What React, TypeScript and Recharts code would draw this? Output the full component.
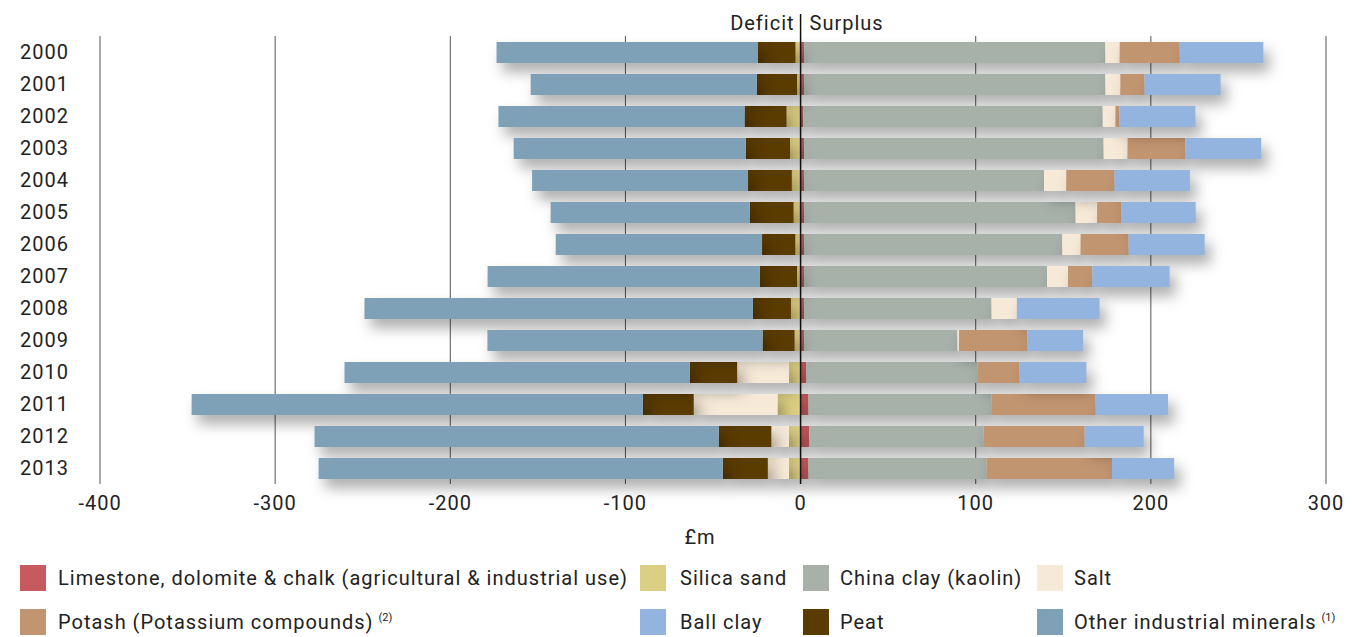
import { Bar, BarChart, CartesianGrid, ReferenceLine, XAxis, YAxis } from "recharts";

const years = ["2000", "2001", "2002", "2003", "2004", "2005", "2006", "2007", "2008", "2009", "2010", "2011", "2012", "2013"];

const limestone = [2, 2, 1.5, 2, 2, 2, 2, 2, 2, 2, 3.3, 4.5, 5, 4.5];
const silicaSand = [-2.9, -2, -8, -6, -5, -4, -3, -2, -5.5, -3.4, -6.6, -13.1, -6.6, -6.6];
const chinaClay = [172, 172, 171, 171, 137, 155, 147.4, 138.7, 107, 87.5, 97.6, 104.6, 99.5, 101.7];
const salt = [8.2, 8.6, 7.3, 13.7, 12.7, 12.3, 10.5, 12, 14.5, 1, -29.6, -47.9, -10.1, -12.1];
const potash = [34.3, 13.8, 2.2, 33, 27.6, 13.7, 27.4, 13.9, 0, 39, 24.1, 59.4, 57.7, 71.6];
const ballClay = [47.7, 43.4, 43.4, 43.3, 43, 42.6, 43.4, 44.1, 47.2, 31.8, 38.2, 41.3, 33.7, 35.5];
const peat = [-21.4, -23, -24, -25.3, -25, -25, -19, -21.3, -21.7, -18.3, -27.1, -29, -30, -25.7];
const otherMinerals = [-149.3, -129.1, -140.5, -132.5, -123.3, -113.7, -117.8, -155.4, -221.8, -157.1, -197.1, -257.7, -230.8, -230.8];

const xTicks = [-400, -300, -200, -100, 0, 100, 200, 300];

const seriesKeys = ["limestone", "silica", "china", "salt", "potash", "ball", "peat", "other"];
const seriesNames = [
  "Limestone, dolomite & chalk (agricultural & industrial use)",
  "Silica sand",
  "China clay (kaolin)",
  "Salt",
  "Potash (Potassium compounds)",
  "Ball clay",
  "Peat",
  "Other industrial minerals",
];
const seriesNotes = ["", "", "", "", "(2)", "", "", "(1)"];
const seriesColors = ["#c75a5e", "#dccf83", "#a8b0aa", "#f6e9d8", "#c29571", "#93b4de", "#5a3b00", "#7ea1b8"];
const seriesValues = [limestone, silicaSand, chinaClay, salt, potash, ballClay, peat, otherMinerals];

const data = years.map((year, i) => {
  const row: Record<string, string | number> = { year };
  seriesKeys.forEach((k, s) => {
    row[k] = seriesValues[s][i];
  });
  return row;
});

const FONT = "Roboto, 'Noto Sans', sans-serif";
const legendCols = [20, 640, 803, 1037];

function ZeroLabel(props: any) {
  const { x, y } = props.viewBox || {};
  return (
    <g>
      <line x1={x} x2={x} y1={y - 22} y2={y} stroke="#111" strokeWidth={1.5} />
      <text x={x - 6} y={y - 11} textAnchor="end" dominantBaseline="middle" fontSize={20} fill="#222">
        Deficit
      </text>
      <text x={x + 9} y={y - 11} textAnchor="start" dominantBaseline="middle" fontSize={20} fill="#222">
        Surplus
      </text>
    </g>
  );
}

export default function App() {
  return (
    <div style={{ position: "absolute", left: 0, top: 0, width: 1352, height: 637, fontFamily: FONT, background: "#fff" }}>
      <style>{`body{margin:0}svg text{letter-spacing:1px}.recharts-bar-rectangles{filter:drop-shadow(6px 9px 7px rgba(0,0,0,0.32))}`}</style>
      <BarChart
        width={1352}
        height={637}
        data={data}
        layout="vertical"
        stackOffset="sign"
        barSize={21}
        margin={{ top: 36, right: 26, bottom: 93, left: 0 }}
        style={{ fontFamily: FONT }}
      >
        <CartesianGrid horizontal={false} stroke="#555" strokeWidth={1} />
        <XAxis
          type="number"
          domain={[-400, 300]}
          ticks={xTicks}
          axisLine={false}
          tickLine={false}
          tickMargin={6}
          height={60}
          tick={{ fill: "#222", fontSize: 20 }}
          label={{ value: "£m", position: "insideBottom", offset: 0, dx: -13, fill: "#222", fontSize: 20 }}
        />
        <YAxis
          type="category"
          dataKey="year"
          width={100}
          axisLine={false}
          tickLine={false}
          tickMargin={25}
          tick={{ fill: "#222", fontSize: 20 }}
        />
        {seriesKeys.map((k, s) => (
          <Bar key={k} dataKey={k} name={seriesNames[s]} stackId="a" fill={seriesColors[s]} isAnimationActive={false} />
        ))}
        <ReferenceLine x={0} stroke="#111" strokeWidth={1.5} label={<ZeroLabel />} />
      </BarChart>
      {seriesKeys.map((k, s) => {
        const row = Math.floor(s / 4);
        const col = s % 4;
        const textLeft = col === 0 ? 38 : col === 1 ? 40 : 37;
        return (
          <div
            key={k}
            style={{ position: "absolute", left: legendCols[col], top: 565 + row * 44, height: 26, display: "flex", alignItems: "center", whiteSpace: "nowrap" }}
          >
            <div style={{ width: 26, height: 26, background: seriesColors[s] }} />
            <span style={{ marginLeft: textLeft - 26, fontSize: 20, letterSpacing: 1, color: "#222" }}>
              {seriesNames[s]}
              {seriesNotes[s] && <sup style={{ fontSize: 11, marginLeft: 5, letterSpacing: 0 }}>{seriesNotes[s]}</sup>}
            </span>
          </div>
        );
      })}
    </div>
  );
}
